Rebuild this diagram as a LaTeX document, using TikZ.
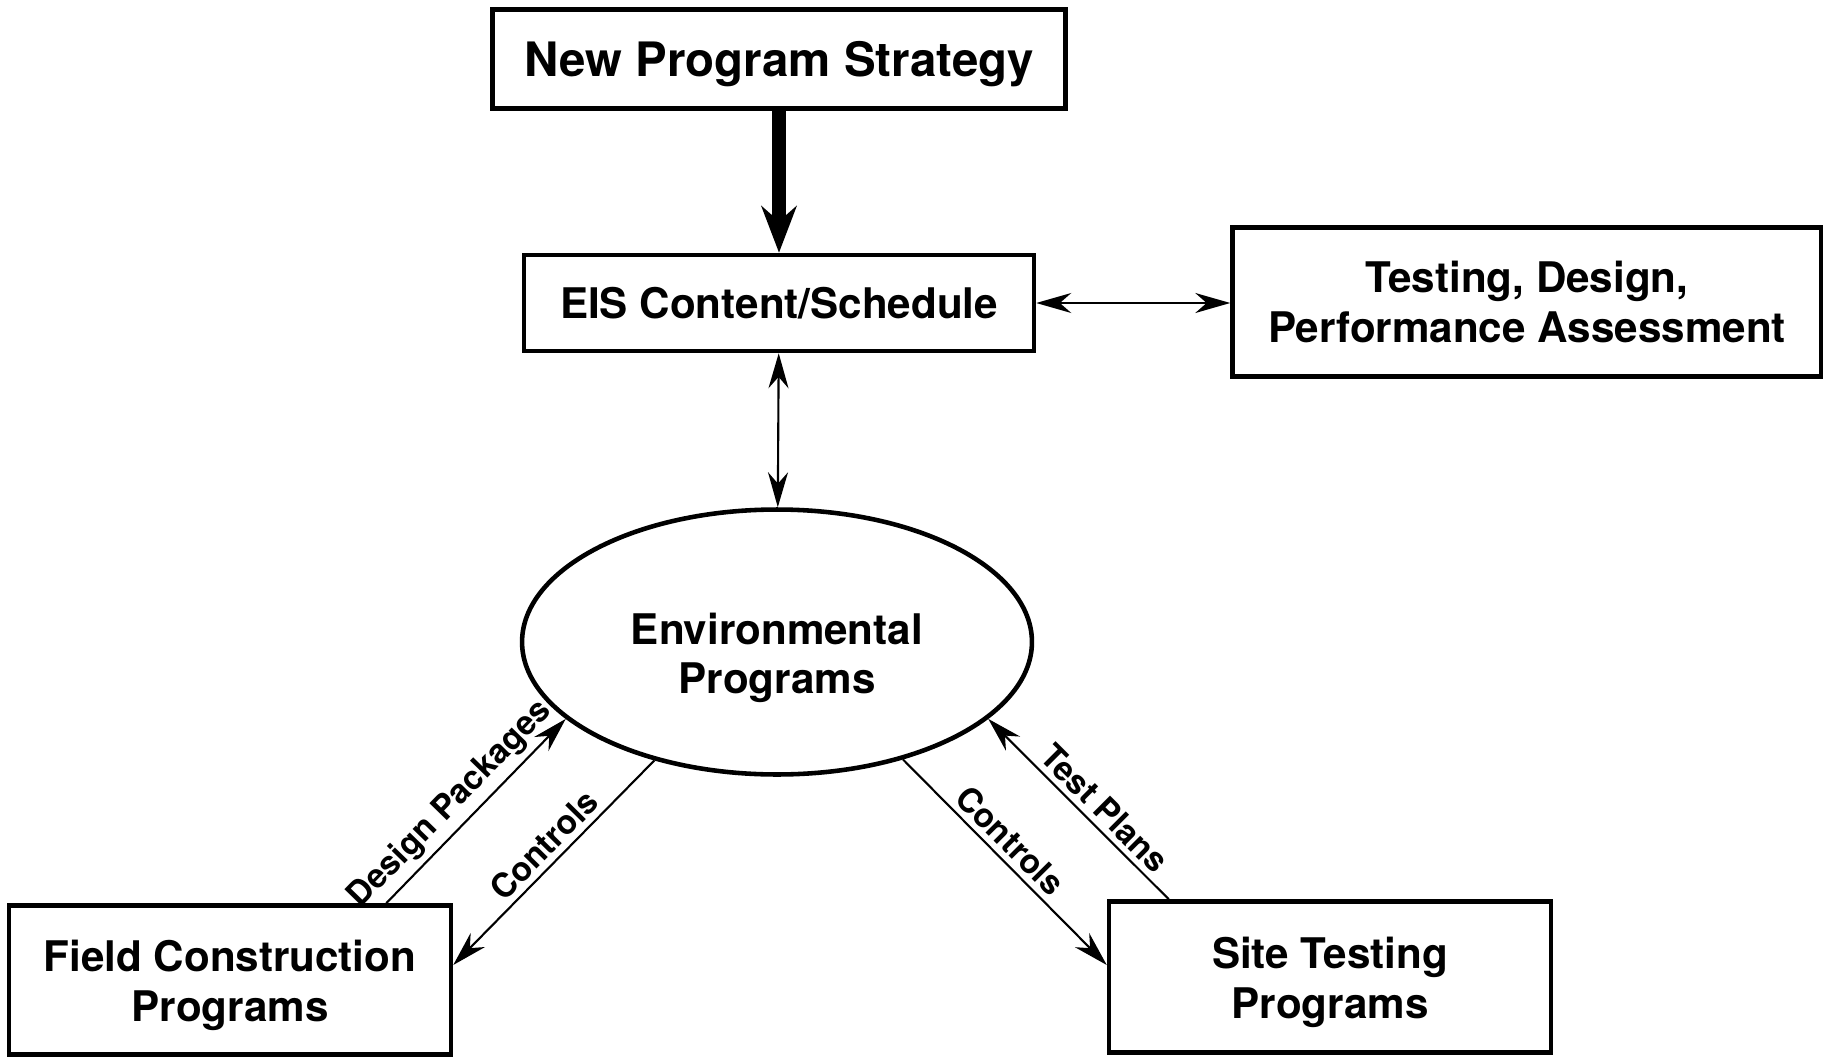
\documentclass[tikz,border=0pt]{standalone}
\usepackage{fontspec}
\setmainfont{TeX Gyre Heros}
\usetikzlibrary{shapes.geometric,arrows.meta}
\newcommand{\lift}[1]{\rule{0pt}{#1}}

\begin{document}
\begin{tikzpicture}[x=0.02cm,y=-0.02cm,
    >={Stealth[length=0.7cm,width=0.4cm]},
    box/.style={draw, line width=2.6pt, align=center, inner sep=0pt,
      font=\fontsize{24}{28}\selectfont\bfseries},
    flow/.style={line width=1.2pt},
    lbl/.style={font=\fontsize{19}{21}\selectfont\bfseries, sloped, above}]
    \useasboundingbox (0,0) rectangle (1823,1058);
    \node [box, minimum width=11.46cm, minimum height=1.98cm, font=\fontsize{27}{32}\selectfont\bfseries] (nps) at (779,59) {\lift{0.91cm}New Program Strategy};
    \node [box, minimum width=10.2cm, minimum height=1.92cm] (eis) at (779,303) {EIS Content/Schedule};
    \node [box, minimum width=11.78cm, minimum height=2.98cm] (tdpa) at (1527,302) {Testing, Design,\\Performance Assessment};
    \node [box, ellipse, minimum width=10.2cm, minimum height=5.3cm] (env) at (777,642) {\lift{1.25cm}Environmental\\Programs};
    \node [box, minimum width=8.84cm, minimum height=2.98cm] (fc) at (230,980) {\lift{0.84cm}Field Construction\\Programs};
    \node [box, minimum width=8.84cm, minimum height=3.02cm] (st) at (1330,977) {\lift{0.84cm}Site Testing\\Programs};
    \draw [line width=8pt, -{Stealth[length=0.93cm,width=0.7cm]}] (nps) -- (eis);
    \draw [flow, <->] (eis.east) -- (eis.east -| tdpa.west);
    \draw [flow, <->] (eis) -- (env);
    \draw [flow, ->] ([xshift=-1.34cm]fc.north east) -- (env.200) node [lbl, pos=0.45] {Design Packages};
    \draw [flow, ->] (env.224) -- ([yshift=0.3cm]fc.east) node [lbl, pos=0.48] {Controls};
    \draw [flow, ->] (env.317) -- ([yshift=0.24cm]st.west) node [lbl, pos=0.46] {Controls};
    \draw [flow, ->] ([xshift=1.24cm]st.north west) -- (env.340) node [lbl, pos=0.43] {Test Plans};
\end{tikzpicture}
\end{document}
